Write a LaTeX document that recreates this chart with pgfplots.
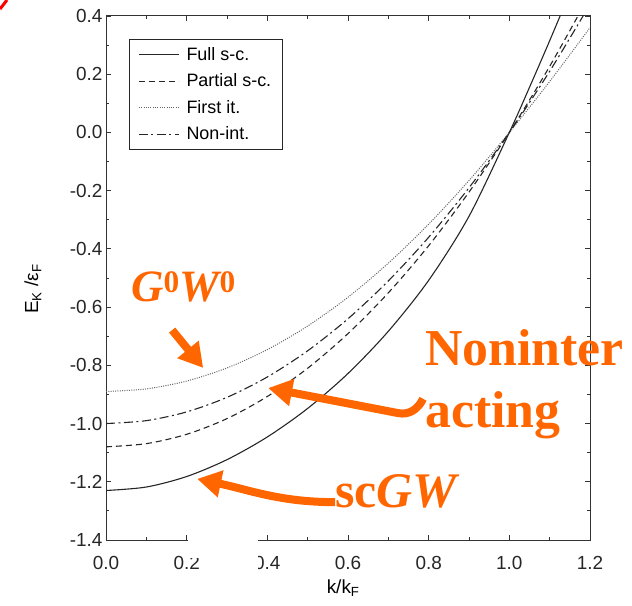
\documentclass[border=0pt]{standalone}
\usepackage{pgfplots}
\pgfplotsset{compat=1.18}
\usepackage{fontspec}
\setmainfont{Liberation Sans}
\newfontfamily\annfont{Liberation Serif}
\usetikzlibrary{arrows.meta}
\definecolor{annorange}{HTML}{FF6600}

\begin{document}
\begin{tikzpicture}
\useasboundingbox (0,0) rectangle (632bp,606bp);
% stray red stroke in the upper-left corner
\draw[red, line width=3bp] (0bp,597bp) -- (7bp,606bp);
\begin{axis}[
  at={(106bp,66bp)}, anchor=south west,
  scale only axis, width=484bp, height=524bp,
  xmin=0, xmax=1.2, ymin=-1.4, ymax=0.4,
  xtick={0,0.2,0.4,0.6,0.8,1.0,1.2},
  xticklabels={0.0,0.2,0.4,0.6,0.8,1.0,1.2},
  ytick={-1.4,-1.2,-1.0,-0.8,-0.6,-0.4,-0.2,0,0.2,0.4},
  yticklabels={-1.4,-1.2,-1.0,-0.8,-0.6,-0.4,-0.2,0.0,0.2,0.4},
  minor x tick num=1, minor y tick num=1,
  tick pos=both, ticklabel pos=left, tick align=inside,
  major tick length=5bp, minor tick length=3bp,
  tick style={black!80, line width=0.8bp},
  axis line style={black!80, line width=1bp},
  ticklabel style={font=\fontsize{19}{22}\selectfont, black!85},
  xticklabel style={yshift=-13bp},
  xlabel={k/k\textsubscript{F}},
  ylabel={E\textsubscript{K} /ε\textsubscript{F}},
  xlabel style={font=\fontsize{19}{22}\selectfont, at={(axis description cs:0.49,-0.092)}, anchor=center},
  ylabel style={font=\fontsize{19}{22}\selectfont, at={(axis description cs:-0.151,0.479)}, anchor=center},
  clip mode=individual,
  legend style={at={(0.0475,0.956)}, anchor=north west,
    font=\fontsize{18}{20}\selectfont, draw=black!85, line width=0.9bp,
    row sep=8bp, column sep=5bp, inner xsep=9bp, inner ysep=6bp,
    cells={anchor=west}},
  legend image code/.code={\draw[#1] (0bp,0bp) -- (40bp,0bp);},
]
% Full self-consistent GW
\addplot[black!85, line width=1.1bp, smooth] coordinates {
  (0,-1.230) (0.1,-1.218) (0.2,-1.182) (0.3,-1.124) (0.4,-1.046)
  (0.5,-0.948) (0.6,-0.828) (0.7,-0.683) (0.8,-0.508) (0.9,-0.288)
  (1.0,0.0) (1.05,0.155) (1.1,0.315) (1.15,0.480)};
\addlegendentry{Full s-c.}
% Partially self-consistent
\addplot[black!85, line width=1.1bp, dash pattern=on 6bp off 4bp, smooth] coordinates {
  (0,-1.080) (0.1,-1.069) (0.2,-1.037) (0.3,-0.983) (0.4,-0.907)
  (0.5,-0.810) (0.6,-0.691) (0.7,-0.551) (0.8,-0.389) (0.9,-0.205)
  (1.0,0.0) (1.1,0.227) (1.2,0.475)};
\addlegendentry{Partial s-c.}
% First iteration (G0W0)
\addplot[black!60, line width=1bp, dash pattern=on 1bp off 1.3bp, smooth] coordinates {
  (0,-0.890) (0.1,-0.881) (0.2,-0.854) (0.3,-0.809) (0.4,-0.746)
  (0.5,-0.665) (0.6,-0.566) (0.7,-0.449) (0.8,-0.315) (0.9,-0.165)
  (1.0,0.0) (1.1,0.175) (1.2,0.360)};
\addlegendentry{First it.}
% Non-interacting band
\addplot[black!85, line width=1.1bp, dash pattern=on 9bp off 3.5bp on 2bp off 3.5bp, smooth] coordinates {
  (0,-1.00) (0.1,-0.99) (0.2,-0.96) (0.3,-0.91) (0.4,-0.84)
  (0.5,-0.75) (0.6,-0.64) (0.7,-0.51) (0.8,-0.36) (0.9,-0.19)
  (1.0,0.0) (1.1,0.21) (1.2,0.44)};
\addlegendentry{Non-int.}

% patch over the lower axis edge
\coordinate (wa) at (axis cs:0.203,-1.369);
\coordinate (wb) at (axis cs:0.3757,-1.463);
\coordinate (wc) at (axis cs:0.360,-1.369);
\coordinate (wd) at (axis cs:0.3757,-1.503);

% annotations
\node[anchor=base west, inner sep=0pt, text=annorange, font=\annfont\fontsize{45}{50}\selectfont\bfseries\itshape]
  at (axis cs:0.062,-0.582) {G\textsuperscript{\upshape 0}W\textsuperscript{\upshape 0}};
\node[anchor=base west, inner sep=0pt, text=annorange, font=\annfont\fontsize{52}{56}\selectfont\bfseries]
  at (axis cs:0.791,-0.799) {Noninter};
\node[anchor=base west, inner sep=0pt, text=annorange, font=\annfont\fontsize{52}{56}\selectfont\bfseries]
  at (axis cs:0.791,-1.015) {acting};
\node[anchor=base west, inner sep=0pt, text=annorange, font=\annfont\fontsize{50}{54}\selectfont\bfseries]
  at (axis cs:0.568,-1.287) {sc\textit{GW}};
\draw[annorange, line width=8bp, -{Triangle[length=24bp,width=26bp]}]
  (axis cs:0.164,-0.679) -- (axis cs:0.241,-0.809);
\draw[annorange, line width=8bp, -{Triangle[length=24bp,width=26bp]}]
  (axis cs:0.786,-0.915) to[out=-115,in=-12] (axis cs:0.724,-0.964) -- (axis cs:0.402,-0.878);
\draw[annorange, line width=8bp, -{Triangle[length=24bp,width=26bp]}]
  (axis cs:0.568,-1.270) to[out=180,in=-12] (axis cs:0.226,-1.190);
\end{axis}
\fill[white] (wa) rectangle (wb);
\fill[white] (wc) rectangle (wd);
\end{tikzpicture}
\end{document}
